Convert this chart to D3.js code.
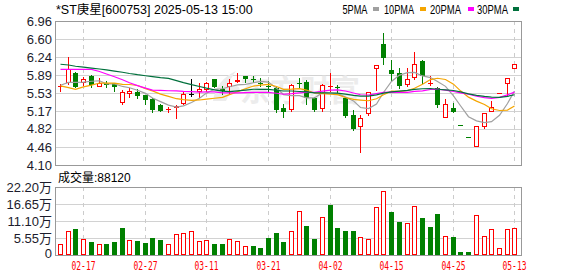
<!DOCTYPE html>
<html><head><meta charset="utf-8">
<script src="https://cdn.jsdelivr.net/npm/d3@7"></script>
<style>body{margin:0;background:#fff}svg{display:block}</style>
</head><body>
<svg id="chart" width="578" height="276"></svg>
<script>
// ---------- data ----------
const title = "*ST庚星[600753] 2025-05-13 15:00";
const dates = ["02-12","02-13","02-14","02-17","02-18","02-19","02-20","02-21","02-24","02-25","02-26","02-27","02-28",
"03-03","03-04","03-05","03-06","03-07","03-10","03-11","03-12","03-13","03-14","03-17","03-18","03-19","03-20","03-21",
"03-24","03-25","03-26","03-27","03-28","03-31","04-01","04-02","04-03","04-07","04-08","04-09","04-10","04-11",
"04-14","04-15","04-16","04-17","04-18","04-21","04-22","04-23","04-24","04-25","04-28","04-29",
"05-06","05-07","05-08","05-09","05-12","05-13"];
const openP  = [5.64,5.735,5.93,5.72,5.875,5.655,5.72,5.72,5.34,5.505,5.55,5.49,5.405,5.30,5.19,5.23,5.31,5.52,5.545,5.59,
5.80,5.605,5.64,5.75,5.86,5.81,5.725,5.67,5.62,5.23,5.19,5.72,5.755,5.425,5.21,5.64,5.65,5.44,5.09,4.85,
5.11,6.00,6.50,5.99,5.935,5.68,5.82,6.165,5.70,5.62,5.03,5.225,4.89,4.65,4.45,4.85,5.15,5.53,5.70,6.00];
const highP  = [5.71,6.24,5.95,5.85,5.89,5.82,5.77,5.735,5.59,5.62,5.60,5.49,5.425,5.31,5.245,5.285,5.56,5.80,5.72,5.755,
5.81,5.67,5.80,5.935,5.86,5.87,5.82,5.77,5.655,5.31,5.705,5.83,5.79,5.45,5.70,5.935,5.69,5.46,5.19,5.09,
5.55,6.09,6.72,6.185,6.02,6.02,6.34,6.185,5.87,5.655,5.41,5.325,4.89,4.65,4.87,5.13,5.37,5.53,5.82,6.10];
const lowP   = [5.57,5.69,5.64,5.67,5.65,5.64,5.655,5.56,5.29,5.44,5.425,5.305,5.16,5.17,5.15,5.01,5.29,5.47,5.425,5.545,
5.64,5.505,5.51,5.72,5.74,5.74,5.67,5.57,5.16,5.06,5.145,5.655,5.31,5.17,5.15,5.56,5.525,5.06,4.795,4.345,
5.07,5.56,6.10,5.79,5.62,5.64,5.79,5.72,5.68,5.26,5.03,5.16,4.89,4.65,4.45,4.81,5.145,5.53,5.47,6.00];
const closeP = [5.67,6.00,5.655,5.80,5.69,5.72,5.695,5.655,5.54,5.56,5.47,5.39,5.19,5.18,5.22,5.265,5.52,5.52,5.60,5.735,
5.64,5.575,5.72,5.78,5.80,5.79,5.705,5.65,5.19,5.16,5.685,5.70,5.425,5.19,5.683,5.66,5.63,5.08,4.81,5.03,
5.55,6.09,6.22,5.90,5.67,5.80,6.10,5.875,5.735,5.29,5.31,5.16,4.89,4.65,4.87,5.13,5.26,5.53,5.82,6.10];
// volume in 万 (10k shares)
const volume = [3.59,7.84,8.49,5.13,4.24,3.59,3.59,4.24,8.81,4.80,
4.57,3.92,5.55,4.90,3.59,6.86,7.18,7.84,4.57,4.90,
3.59,3.59,5.22,4.57,2.94,2.94,2.29,5.55,7.18,4.24,
7.84,14.36,9.47,5.22,12.41,16.32,8.81,7.84,7.84,5.88,
5.22,15.67,20.89,14.04,10.77,10.45,16.0,12.08,9.14,13.39,
6.20,5.88,0.98,0.98,13.06,6.20,8.49,2.29,8.49,8.812];
// closes before the visible window, estimated from where the MA lines start
const preWindowCloses = [6.45,6.40,6.35,6.20,6.30,6.25,6.35,6.20,6.30,6.20,
6.00,5.70,5.80,5.70,6.55,6.70,6.75,6.70,6.75,6.65,
6.35,6.00,5.30,5.35,5.30,5.72,5.65,5.78,5.60];
const priceTicks = [4.10,4.46,4.82,5.17,5.53,5.89,6.24,6.60,6.96];
const volTicks = [0,5.55,11.10,16.65,22.20];
const volTickLabels = ["0","5.55万","11.10万","16.65万","22.20万"];
const dateLabels = ["02-17","02-27","03-11","03-21","04-02","04-15","04-25","05-13"];
const maPeriods = [5,10,20,30];
const maNames = ["5PMA","10PMA","20PMA","30PMA"];
const maColors = ["#a0a0a0","#f5a500","#ff00ff","#00703c"];
const volCaption = "成交量:88120";

// ---------- layout ----------
const L = 55, R = 521, pTop = 21, pBot = 165, vTop = 187, vBot = 255;
const RED = "#ff0000", GREEN = "#008000";
const svg = d3.select("#chart");

const x = d3.scaleBand().domain(dates).range([56.15, 518.15]);
const y = d3.scaleLinear().domain([4.10, 6.96]).range([pBot, pTop]);
const yv = d3.scaleLinear().domain([0, 22.20]).range([vBot, vTop]);
const cx = i => Math.round(x(dates[i]) + x.bandwidth() / 2);

// grid
const grid = svg.append("g");
grid.selectAll(".hp").data(priceTicks).join("line")
  .attr("x1", L).attr("x2", R)
  .attr("y1", d => Math.round(y(d)) + 0.5).attr("y2", d => Math.round(y(d)) + 0.5)
  .attr("stroke", "#d2d2d2");
grid.selectAll(".hv").data(volTicks).join("line")
  .attr("x1", L).attr("x2", R)
  .attr("y1", d => Math.round(yv(d)) + 0.5).attr("y2", d => Math.round(yv(d)) + 0.5)
  .attr("stroke", "#d2d2d2");
[[pTop, pBot], [vTop, vBot]].forEach(([a, b]) => {
  grid.selectAll(null).data(dateLabels).join("line")
    .attr("x1", d => cx(dates.indexOf(d)) + 0.5).attr("x2", d => cx(dates.indexOf(d)) + 0.5)
    .attr("y1", a).attr("y2", b)
    .attr("stroke", "#cccccc").attr("stroke-dasharray", "4,4");
});

// watermark
const wm = svg.append("g").attr("fill", "#ececec");
wm.append("path").attr("d", "M213,101 Q216,80 236,71 Q229,80 228,88 Q240,82 240,92 Q230,90 226,101 Z");
wm.append("text").attr("x", 240).attr("y", 101).attr("font-size", 30).attr("font-weight", "bold")
  .attr("font-family", "'Noto Sans CJK SC'").text("东方财富");

// borders
const border = svg.append("g").attr("fill", "none").attr("stroke", "#999").attr("stroke-width", 1);
border.append("rect").attr("x", L + 0.5).attr("y", pTop + 0.5).attr("width", R - L).attr("height", pBot - pTop);
border.append("rect").attr("x", L + 0.5).attr("y", vTop + 0.5).attr("width", R - L).attr("height", vBot - vTop);

// axes labels
const yAxis = d3.axisLeft(y).tickValues(priceTicks).tickFormat(d3.format(".2f")).tickSize(0).tickPadding(0);
const ya = svg.append("g").attr("transform", `translate(${L - 3},0)`).call(yAxis);
ya.select(".domain").remove();
ya.selectAll("text").attr("font-size", 13).attr("font-family", "'Liberation Sans',Arial,sans-serif").attr("fill", "#1c1c2c");

const vAxis = d3.axisLeft(yv).tickValues(volTicks).tickFormat((d, i) => volTickLabels[i]).tickSize(0).tickPadding(0);
const va = svg.append("g").attr("transform", `translate(${L - 3},0)`).call(vAxis);
va.select(".domain").remove();
va.selectAll("text").attr("font-size", 13).attr("font-family", "'Liberation Sans','Noto Sans CJK SC',sans-serif").attr("fill", "#1c1c2c");
va.selectAll(".tick").filter(d => d === 0).select("text").attr("dy", "0.2em");

svg.append("g").selectAll("text").data(dateLabels).join("text")
  .attr("x", d => cx(dates.indexOf(d)) + 0.5).attr("y", 270)
  .attr("text-anchor", "middle").attr("font-size", 12)
  .attr("font-family", "'DejaVu Sans Mono',monospace").attr("fill", RED)
  .attr("textLength", 24).attr("lengthAdjust", "spacingAndGlyphs")
  .text(d => d);

// title & legend
svg.append("text").attr("x", 56).attr("y", 14).attr("font-size", 12.5)
  .attr("font-family", "'Liberation Sans','Noto Sans CJK SC',sans-serif").attr("fill", "#000").text(title);
const legX = [342.5, 384, 430, 477], legW = [25, 30, 31, 31], sqX = [373, 420, 468, 513];
const leg = svg.append("g");
leg.selectAll("text").data(maNames).join("text")
  .attr("x", (d, i) => legX[i]).attr("y", 14).attr("font-size", 12.5)
  .attr("font-family", "'Liberation Sans',sans-serif").attr("fill", "#000")
  .attr("textLength", (d, i) => legW[i]).attr("lengthAdjust", "spacingAndGlyphs").text(d => d);
leg.selectAll("rect").data(maColors).join("rect")
  .attr("x", (d, i) => sqX[i]).attr("y", 7).attr("width", 6).attr("height", 4).attr("fill", d => d);

svg.append("text").attr("x", 58).attr("y", 182).attr("font-size", 12)
  .attr("font-family", "'Liberation Sans','Noto Sans CJK SC',sans-serif").attr("fill", "#000").text(volCaption);

// ---------- candles ----------
const bars = dates.map((d, i) => {
  const o = openP[i], c = closeP[i], prev = i > 0 ? closeP[i - 1] : o;
  let col;
  if (c > o) col = RED; else if (c < o) col = GREEN;
  else col = c > prev ? RED : (c < prev ? GREEN : "#000");
  const vcol = (i === 0 ? c >= o : c >= prev) ? RED : GREEN;
  return {i, o, c, h: highP[i], l: lowP[i], col, hollow: c > o, v: volume[i], vcol};
});

const cg = svg.append("g");
bars.forEach(b => {
  const X = cx(b.i);
  const top = Math.round(y(Math.max(b.o, b.c))), bot = Math.round(y(Math.min(b.o, b.c)));
  const yh = Math.round(y(b.h)), yl = Math.round(y(b.l));
  if (b.hollow && bot - top >= 2) {
    if (yh < top) cg.append("line").attr("x1", X + 0.5).attr("x2", X + 0.5).attr("y1", yh).attr("y2", top).attr("stroke", b.col);
    if (yl > bot) cg.append("line").attr("x1", X + 0.5).attr("x2", X + 0.5).attr("y1", bot).attr("y2", yl).attr("stroke", b.col);
    cg.append("rect").attr("x", X - 1.5).attr("y", top + 0.5).attr("width", 4).attr("height", bot - top - 1)
      .attr("fill", "#fff").attr("stroke", b.col);
  } else {
    if (yl > yh) cg.append("line").attr("x1", X + 0.5).attr("x2", X + 0.5).attr("y1", yh).attr("y2", yl + 1).attr("stroke", b.col);
    cg.append("rect").attr("x", X - 2).attr("y", top).attr("width", 5).attr("height", Math.max(bot - top, 1)).attr("fill", b.col);
  }
});

// ---------- moving averages ----------
const allCloses = preWindowCloses.concat(closeP);
const off = preWindowCloses.length;
const line = d3.line().x(d => cx(d.i) + 0.5).y(d => y(d.v));
maPeriods.forEach((p, k) => {
  const pts = dates.map((d, i) => ({i, v: d3.mean(allCloses.slice(off + i - p + 1, off + i + 1))}));
  svg.append("path").datum(pts).attr("d", line).attr("fill", "none")
    .attr("stroke", maColors[k]).attr("stroke-width", 1.2);
});

// ---------- volume ----------
const vg = svg.append("g");
bars.forEach(b => {
  const X = cx(b.i), t = Math.round(yv(b.v));
  if (b.vcol === RED) {
    vg.append("rect").attr("x", X - 1.5).attr("y", t + 0.5).attr("width", 4).attr("height", Math.max(vBot - t - 1, 0))
      .attr("fill", "#fff").attr("stroke", RED);
  } else {
    vg.append("rect").attr("x", X - 2).attr("y", t).attr("width", 5).attr("height", vBot - t).attr("fill", GREEN);
  }
});
</script>
</body></html>
